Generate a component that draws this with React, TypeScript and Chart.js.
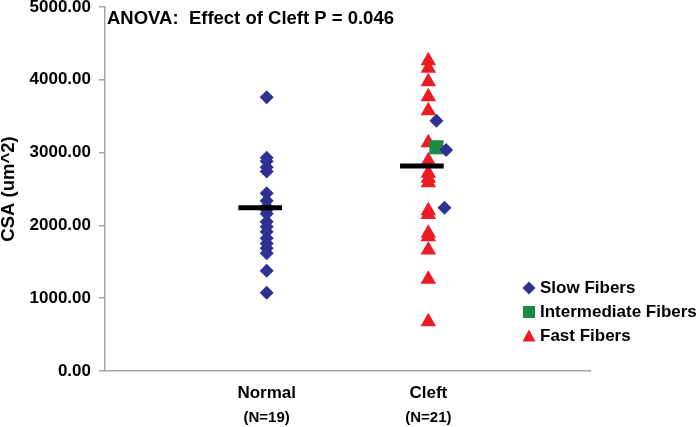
import React, { useEffect, useRef } from 'react';
import { Chart, registerables } from 'chart.js';

Chart.register(...registerables);

const FONT = '"Liberation Sans", Arial, sans-serif';

const categories = ['Normal', 'Cleft'];
const groupSizes = ['(N=19)', '(N=21)'];
const seriesNames = ['Slow Fibers', 'Intermediate Fibers', 'Fast Fibers'];
const seriesColors = ['#2E3192', '#1B8A44', '#EC1C24'];
const annotationText = 'ANOVA:  Effect of Cleft P = 0.046';
const yAxisTitle = 'CSA (um^2)';

// Normal group: slow fibers (all at category 1)
const normalSlow = [3760, 2930, 2880, 2800, 2740, 2441, 2340, 2257, 2210, 2160, 2051, 1980, 1913, 1822, 1750, 1685, 1617, 1378, 1076];

// Cleft group
const cleftFast = [4262, 4158, 3974, 3768, 3576, 3136, 2889, 2716, 2647, 2587, 2202, 2150, 1891, 1845, 1662, 1260, 677];
const cleftSlow = [3438, 3036, 2243];
const cleftSlowX = [2.05, 2.11, 2.1];
const cleftIntermediate = [3073];
const cleftIntermediateX = [2.05];

// group means (black bars)
const groupMeans = [2243, 2816];

const yMin = 0;
const yMax = 5000;
const yStep = 1000;

const overlayPlugin = {
  id: 'overlay',
  afterDraw(chart: any) {
    const ctx = chart.ctx as CanvasRenderingContext2D;
    const xs = chart.scales.x;
    const area = chart.chartArea;
    ctx.save();
    ctx.fillStyle = '#000';
    ctx.textBaseline = 'middle';
    ctx.textAlign = 'left';
    ctx.font = `bold 18.5px ${FONT}`;
    ctx.fillText(annotationText, area.left + 2, area.top + 12);

    ctx.font = `bold 15px ${FONT}`;
    ctx.textAlign = 'center';
    groupSizes.forEach((s, i) => {
      ctx.fillText(s, xs.getPixelForValue(i + 1), 418);
    });

    // legend
    const mx = 529;
    const tx = 540;
    const ys = [288, 312, 336];
    ctx.font = `bold 17px ${FONT}`;
    ctx.textAlign = 'left';
    seriesNames.forEach((name, i) => {
      const y = ys[i];
      ctx.fillStyle = seriesColors[i];
      ctx.beginPath();
      if (i === 0) {
        ctx.moveTo(mx, y - 6.5);
        ctx.lineTo(mx + 6.5, y);
        ctx.lineTo(mx, y + 6.5);
        ctx.lineTo(mx - 6.5, y);
      } else if (i === 1) {
        ctx.rect(mx - 6, y - 6, 12, 12);
      } else {
        ctx.moveTo(mx, y - 6.5);
        ctx.lineTo(mx + 6.5, y + 5.5);
        ctx.lineTo(mx - 6.5, y + 5.5);
      }
      ctx.closePath();
      ctx.fill();
      ctx.fillStyle = '#000';
      ctx.fillText(name, tx, y);
    });
    ctx.restore();
  },
};

export default function App() {
  const ref = useRef<HTMLCanvasElement | null>(null);

  useEffect(() => {
    if (!ref.current) return;
    const meanHalf = 0.135;
    const meanShift = -0.04;
    const chart = new Chart(ref.current, {
      type: 'scatter',
      data: {
        datasets: [
          {
            label: seriesNames[0],
            data: [
              ...normalSlow.map((v) => ({ x: 1, y: v })),
              ...cleftSlow.map((v, i) => ({ x: cleftSlowX[i], y: v })),
            ],
            pointStyle: 'rectRot',
            pointRadius: 7,
            backgroundColor: seriesColors[0],
            borderColor: seriesColors[0],
            borderWidth: 0,
          },
          {
            label: seriesNames[1],
            data: cleftIntermediate.map((v, i) => ({ x: cleftIntermediateX[i], y: v })),
            pointStyle: 'rect',
            pointRadius: 10,
            backgroundColor: seriesColors[1],
            borderColor: seriesColors[1],
            borderWidth: 0,
          },
          {
            label: seriesNames[2],
            data: cleftFast.map((v) => ({ x: 2, y: v })),
            pointStyle: 'triangle',
            pointRadius: 9,
            backgroundColor: seriesColors[2],
            borderColor: seriesColors[2],
            borderWidth: 0,
          },
          ...groupMeans.map((m, i) => ({
            type: 'line' as const,
            label: 'mean ' + categories[i],
            data: [
              { x: i + 1 + meanShift - meanHalf, y: m },
              { x: i + 1 + meanShift + meanHalf, y: m },
            ],
            borderColor: '#000',
            borderWidth: 5,
            pointRadius: 0,
            showLine: true,
            order: -1,
          })),
        ],
      },
      options: {
        animation: false,
        responsive: false,
        devicePixelRatio: 1,
        layout: {
          autoPadding: false,
          padding: { left: 0, right: 110, top: 7, bottom: 0 },
        },
        plugins: {
          legend: { display: false },
          tooltip: { enabled: false },
        },
        scales: {
          x: {
            type: 'linear',
            min: 0,
            max: 3,
            afterFit: (s: any) => {
              s.height = 56;
              s.paddingLeft = 0;
              s.paddingRight = 0;
            },
            grid: { drawOnChartArea: false, drawTicks: false, color: '#a6a6a6' },
            border: { display: true, color: '#a6a6a6', width: 1.5 },
            ticks: {
              stepSize: 1,
              autoSkip: false,
              maxRotation: 0,
              padding: 12,
              color: '#000',
              font: { family: FONT, size: 17, weight: 'bold' },
              callback: (v: any) => (v >= 1 && v <= categories.length ? categories[v - 1] : ''),
            },
          },
          y: {
            type: 'linear',
            min: yMin,
            max: yMax,
            afterFit: (s: any) => {
              s.width = 105;
              s.paddingTop = 0;
              s.paddingBottom = 0;
            },
            grid: { drawOnChartArea: false, drawTicks: true, tickLength: 6, color: '#a6a6a6', lineWidth: 1.5 },
            border: { display: true, color: '#a6a6a6', width: 1.5 },
            ticks: {
              stepSize: yStep,
              padding: 8,
              color: '#000',
              font: { family: FONT, size: 17, weight: 'bold' },
              callback: (v: any) => Number(v).toFixed(2),
            },
            title: {
              display: true,
              text: yAxisTitle,
              color: '#000',
              padding: 0,
              font: { family: FONT, size: 18.5, weight: 'bold', lineHeight: 1 },
            },
          },
        },
      },
      plugins: [overlayPlugin],
    } as any);
    return () => chart.destroy();
  }, []);

  return (
    <div style={{ position: 'absolute', left: 0, top: 0, width: 700, height: 427, background: '#fff' }}>
      <canvas ref={ref} width={700} height={427} style={{ display: 'block' }} />
    </div>
  );
}
